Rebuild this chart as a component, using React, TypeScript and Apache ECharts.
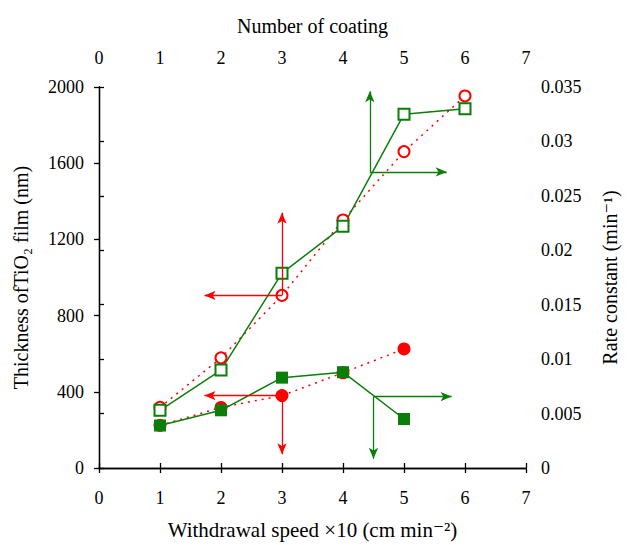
import React, { useEffect, useRef } from "react";
import * as echarts from "echarts";

const xTicks = [0, 1, 2, 3, 4, 5, 6, 7];
const coatingX = [1, 2, 3, 4, 5, 6];
const speedX = [1, 2, 3, 4, 5];
// Thickness (nm) vs number of coating (red open circles)
const thicknessCoating = [318, 578, 906, 1302, 1661, 1953];
// Thickness (nm) vs withdrawal speed (red filled circles)
const thicknessSpeed = [224, 318, 380, 500, 625];
// Rate constant vs number of coating (green open squares)
const rateCoating = [0.0053, 0.009, 0.0179, 0.0222, 0.0325, 0.033];
// Rate constant vs withdrawal speed (green filled squares)
const rateSpeed = [0.0039, 0.0053, 0.0083, 0.0088, 0.0045];

const RED = "#ff0000";
const GREEN = "#0a7d0a";
const FONT = "'Liberation Serif', 'DejaVu Serif', serif";

const pairs = (xs: number[], ys: number[]) => xs.map((x, i) => [x, ys[i]]);

const arrow = (from: number[], to: number[]) => [{ coord: from }, { coord: to }];

export default function App() {
  const ref = useRef<HTMLDivElement>(null);
  useEffect(() => {
    const chart = echarts.init(ref.current!, null, { renderer: "svg" });
    const axisCommon = {
      axisLine: { lineStyle: { color: "#000", width: 1.3 } },
      axisTick: { inside: false, length: 5, lineStyle: { color: "#000", width: 1.3 } },
      splitLine: { show: false },
      axisLabel: { color: "#000", fontFamily: FONT, fontSize: 18, formatter: (v: number) => String(v) },
      nameTextStyle: { color: "#000", fontFamily: FONT, fontSize: 20 },
    };
    const ml = (color: string, data: any[]) => ({
      silent: true,
      symbol: ["none", "arrow"],
      symbolSize: [7, 11],
      label: { show: false },
      lineStyle: { color, width: 1.3, type: "solid" },
      emphasis: { disabled: true },
      data,
    });
    chart.setOption({
      animation: false,
      textStyle: { fontFamily: FONT },
      grid: { left: 99, right: 96, top: 87, bottom: 72, containLabel: false },
      xAxis: [
        {
          ...axisCommon,
          type: "value",
          position: "bottom",
          min: 0,
          max: 7,
          interval: 1,
          name: "Withdrawal speed ×10 (cm min⁻²)",
          nameLocation: "middle",
          nameGap: 51,
          nameTextStyle: { ...axisCommon.nameTextStyle, fontSize: 21 },
          axisLabel: { ...axisCommon.axisLabel, margin: 21 },
        },
        {
          ...axisCommon,
          type: "value",
          position: "top",
          min: 0,
          max: 7,
          interval: 1,
          name: "Number of coating",
          nameLocation: "middle",
          nameGap: 51,
          axisLabel: { ...axisCommon.axisLabel, margin: 20 },
        },
      ],
      yAxis: [
        {
          ...axisCommon,
          type: "value",
          position: "left",
          min: 0,
          max: 2000,
          interval: 400,
          name: "Thickness ofTiO₂ film (nm)",
          nameLocation: "middle",
          nameGap: 68,
          axisLabel: { ...axisCommon.axisLabel, margin: 15 },
        },
        {
          ...axisCommon,
          type: "value",
          position: "right",
          min: 0,
          max: 0.035,
          interval: 0.005,
          name: "Rate constant (min⁻¹)",
          nameLocation: "middle",
          nameGap: 74,
          nameRotate: 90,
          axisLabel: {
            ...axisCommon.axisLabel,
            margin: 15,
            formatter: (v: number) => String(+v.toFixed(3)),
          },
        },
      ],
      series: [
        {
          type: "line",
          name: "thickness-coating",
          xAxisIndex: 1,
          yAxisIndex: 0,
          data: pairs(coatingX, thicknessCoating),
          symbol: "emptyCircle",
          symbolSize: 11,
          itemStyle: { color: RED, borderWidth: 1.5 },
          lineStyle: { color: RED, width: 1.5, type: [2, 5] },
          markLine: ml(RED, [arrow([3, 906], [1.73, 906]), arrow([3, 906], [3, 1340])]),
        },
        {
          type: "line",
          name: "thickness-speed",
          xAxisIndex: 0,
          yAxisIndex: 0,
          data: pairs(speedX, thicknessSpeed),
          symbol: "circle",
          symbolSize: 13,
          itemStyle: { color: RED },
          lineStyle: { color: RED, width: 1.5, type: [2, 5] },
          markLine: ml(RED, [arrow([3, 380], [1.73, 380]), arrow([3, 380], [3, 72])]),
        },
        {
          type: "line",
          name: "rate-coating",
          xAxisIndex: 1,
          yAxisIndex: 1,
          data: pairs(coatingX, rateCoating),
          symbol: "emptyRect",
          symbolSize: 11,
          itemStyle: { color: GREEN, borderWidth: 1.5 },
          lineStyle: { color: GREEN, width: 1.5 },
          markLine: ml(GREEN, [
            arrow([4.44, 0.0272], [4.44, 0.0346]),
            arrow([4.44, 0.0272], [5.7, 0.0272]),
          ]),
        },
        {
          type: "line",
          name: "rate-speed",
          xAxisIndex: 0,
          yAxisIndex: 1,
          data: pairs(speedX, rateSpeed),
          symbol: "rect",
          symbolSize: 12,
          itemStyle: { color: GREEN },
          lineStyle: { color: GREEN, width: 1.5 },
          markLine: ml(GREEN, [
            arrow([4.5, 0.00656], [5.78, 0.00656]),
            arrow([4.5, 0.00656], [4.5, 0.00085]),
          ]),
        },
      ],
    });
    return () => chart.dispose();
  }, []);
  return (
    <div
      ref={ref}
      style={{ position: "fixed", left: 0, top: 0, width: 628, height: 545, background: "#fff" }}
    />
  );
}
